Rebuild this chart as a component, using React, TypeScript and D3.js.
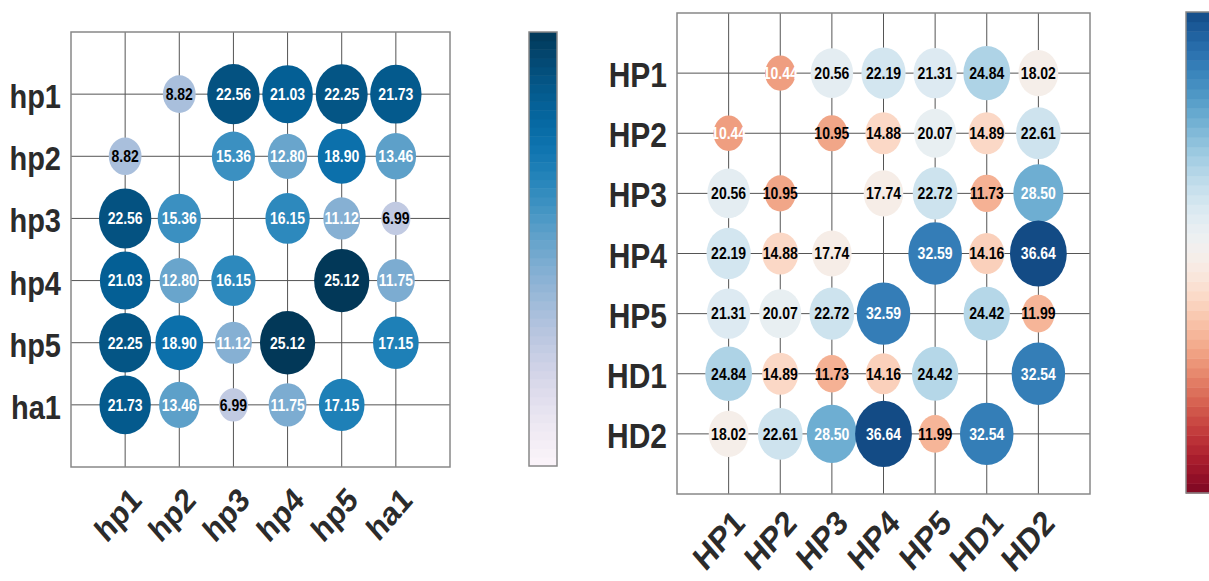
import * as d3 from 'd3';

// left panel
const leftLabels = ['hp1', 'hp2', 'hp3', 'hp4', 'hp5', 'ha1'];
const leftValues: (number | null)[][] = [
  [null, 8.82, 22.56, 21.03, 22.25, 21.73],
  [8.82, null, 15.36, 12.8, 18.9, 13.46],
  [22.56, 15.36, null, 16.15, 11.12, 6.99],
  [21.03, 12.8, 16.15, null, 25.12, 11.75],
  [22.25, 18.9, 11.12, 25.12, null, 17.15],
  [21.73, 13.46, 6.99, 11.75, 17.15, null],
];

// right panel
const rightLabels = ['HP1', 'HP2', 'HP3', 'HP4', 'HP5', 'HD1', 'HD2'];
const rightValues: (number | null)[][] = [
  [null, 10.44, 20.56, 22.19, 21.31, 24.84, 18.02],
  [10.44, null, 10.95, 14.88, 20.07, 14.89, 22.61],
  [20.56, 10.95, null, 17.74, 22.72, 11.73, 28.5],
  [22.19, 14.88, 17.74, null, 32.59, 14.16, 36.64],
  [21.31, 20.07, 22.72, 32.59, null, 24.42, 11.99],
  [24.84, 14.89, 11.73, 14.16, 24.42, null, 32.54],
  [18.02, 22.61, 28.5, 36.64, 11.99, 32.54, null],
];

const STRETCH = 1.15;
const FONT = '"Liberation Sans", Arial, Helvetica, sans-serif';

type Panel = {
  labels: string[];
  values: (number | null)[][];
  box: { x0: number; x1: number; y0: number; y1: number };
  bar: { x: number; w: number; y0: number; y1: number };
  color: (t: number) => string;
  tRange: [number, number];
  rFactor: number;
  labelSize: number;
  xLabelDy: number;
  whiteText: (v: number) => boolean;
};

const panels: Panel[] = [
  {
    labels: leftLabels,
    values: leftValues,
    box: { x0: 71, x1: 450, y0: 32, y1: 467 },
    bar: { x: 529, w: 28, y0: 32, y1: 466 },
    color: d3.interpolatePuBu,
    tRange: [0.02, 1],
    rFactor: 0.51,
    labelSize: 29,
    xLabelDy: 35,
    whiteText: v => v > 10,
  },
  {
    labels: rightLabels,
    values: rightValues,
    box: { x0: 677, x1: 1090, y0: 13, y1: 494 },
    bar: { x: 1186, w: 28, y0: 12, y1: 493 },
    color: d3.interpolateRdBu,
    tRange: [0.03, 0.95],
    rFactor: 0.55,
    labelSize: 30,
    xLabelDy: 31,
    whiteText: v => v > 28 || v < 10.5,
  },
];

function CorrPanel({ p }: { p: Panel }) {
  const { box, bar, labels, values } = p;
  const x = d3.scalePoint<string>().domain(labels).range([box.x0, box.x1]).padding(1);
  const y = d3.scalePoint<string>().domain(labels).range([box.y0, box.y1]).padding(1);
  const max = d3.max(values.flat(), d => d ?? 0) as number;
  const t = d3.scaleLinear().domain([0, max]).range(p.tRange);
  const fill = (v: number) => p.color(t(v));
  const r = d3.scaleSqrt().domain([0, max]).range([0, p.rFactor]);
  const stepX = x.step();
  const stepY = y.step();

  const nBands = 50;
  const bandY = d3.scaleLinear().domain([0, nBands]).range([bar.y1, bar.y0]);

  return (
    <g>
      {labels.map(l => (
        <line key={'v' + l} x1={x(l)} x2={x(l)} y1={box.y0} y2={box.y1} stroke="#555" strokeWidth={1} />
      ))}
      {labels.map(l => (
        <line key={'h' + l} x1={box.x0} x2={box.x1} y1={y(l)} y2={y(l)} stroke="#555" strokeWidth={1} />
      ))}
      <rect x={box.x0} y={box.y0} width={box.x1 - box.x0} height={box.y1 - box.y0} fill="none" stroke="#888" strokeWidth={1.5} />
      {values.map((row, i) =>
        row.map((v, j) => {
          if (v == null) return null;
          const cx = x(labels[j])!;
          const cy = y(labels[i])!;
          return (
            <g key={i + '-' + j}>
              <ellipse cx={cx} cy={cy} rx={r(v) * stepX} ry={r(v) * stepY} fill={fill(v)} />
              <text
                transform={`translate(${cx},${cy}) scale(1,${STRETCH})`}
                textAnchor="middle"
                dy="0.36em"
                fontFamily={FONT}
                fontWeight="bold"
                fontSize={14}
                fill={p.whiteText(v) ? '#fff' : '#000'}
              >
                {v.toFixed(2)}
              </text>
            </g>
          );
        })
      )}
      {labels.map(l => (
        <text
          key={'yl' + l}
          transform={`translate(${box.x0 - 10},${y(l)! + 14}) scale(1,${STRETCH})`}
          textAnchor="end"
          fontFamily={FONT}
          fontWeight="bold"
          fontSize={p.labelSize}
          fill="#2b2b2b"
        >
          {l}
        </text>
      ))}
      {labels.map(l => (
        <text
          key={'xl' + l}
          transform={`translate(${x(l)! + 18},${box.y1 + p.xLabelDy}) scale(1,${STRETCH}) rotate(-45)`}
          textAnchor="end"
          fontFamily={FONT}
          fontWeight="bold"
          fontSize={p.labelSize}
          fill="#2b2b2b"
        >
          {l}
        </text>
      ))}
      {d3.range(nBands).map(k => (
        <rect
          key={'b' + k}
          x={bar.x}
          width={bar.w}
          y={bandY(k + 1)}
          height={bandY(k) - bandY(k + 1) + 0.5}
          fill={fill(((k + 0.5) / nBands) * max)}
        />
      ))}
      <rect x={bar.x} y={bar.y0} width={bar.w} height={bar.y1 - bar.y0} fill="none" stroke="#888" strokeWidth={1.5} />
    </g>
  );
}

export default function App() {
  return (
    <svg
      width={1209}
      height={581}
      viewBox="0 0 1209 581"
      style={{ position: 'absolute', left: 0, top: 0, background: '#fff' }}
    >
      <rect width={1209} height={581} fill="#fff" />
      {panels.map((p, i) => (
        <CorrPanel key={i} p={p} />
      ))}
    </svg>
  );
}
